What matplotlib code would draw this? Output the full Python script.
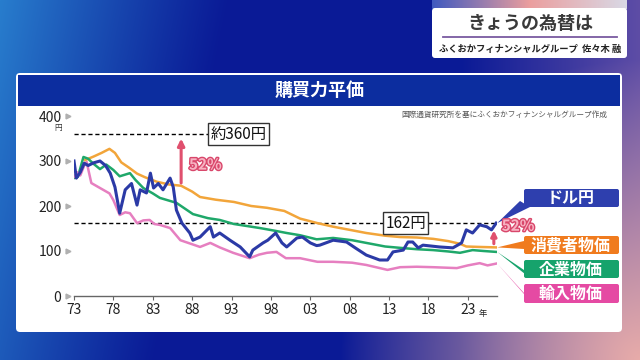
import matplotlib
matplotlib.use("Agg")
import matplotlib.pyplot as plt
from matplotlib.patches import FancyBboxPatch, Polygon, Rectangle
from matplotlib.transforms import blended_transform_factory
import matplotlib.patheffects as pe
import numpy as np

plt.rcParams['font.family'] = ['Noto Sans CJK JP', 'DejaVu Sans']

# values (x = year, y = yen)
usd_years = [1973.0, 1973.3, 1973.8, 1974.3, 1974.8, 1975.5, 1976.3, 1977.0, 1977.6, 1978.2,
             1978.8, 1979.5, 1980.3, 1981.0, 1981.4, 1982.2, 1982.7, 1983.1, 1983.7, 1984.3,
             1985.2, 1985.6, 1986.0, 1986.7, 1987.7, 1988.1, 1989.0, 1990.3, 1990.7, 1991.5,
             1992.8, 1994.1, 1995.3, 1995.7, 1997.0, 1997.6, 1998.6, 1999.4, 2000.0, 2001.3,
             2002.0, 2003.0, 2003.8, 2004.2, 2005.9, 2007.6, 2008.7, 2010.1, 2011.8, 2012.8,
             2013.5, 2014.8, 2015.4, 2016.0, 2016.7, 2017.3, 2019.4, 2021.1, 2022.2, 2022.8,
             2023.6, 2024.5, 2025.4, 2026.0, 2026.6]
usd_vals = [300, 262, 275, 295, 290, 296, 300, 290, 273, 242,
            184, 236, 250, 202, 236, 229, 273, 240, 250, 236,
            262, 242, 191, 162, 140, 124, 131, 154, 131, 140,
            124, 109, 87, 102, 118, 124, 140, 118, 109, 129,
            131, 118, 112, 113, 124, 120, 107, 91, 80, 80,
            98, 102, 120, 120, 107, 113, 109, 107, 118, 147,
            140, 158, 154, 147, 162]

cpi_years = [1974.4, 1975.5, 1976.5, 1977.5, 1978.2, 1979.0, 1980.0, 1981.0, 1982.0, 1983.5,
             1985.0, 1986.6, 1988.0, 1989.0, 1991.0, 1993.3, 1995.5, 1997.5, 1999.7, 2001.7,
             2003.9, 2005.9, 2008.0, 2010.1, 2012.5, 2014.4, 2016.5, 2018.6, 2020.5, 2022.0,
             2022.8, 2024.5, 2026.6]
cpi_vals = [302, 310, 318, 327, 318, 297, 285, 272, 264, 254,
            248, 245, 232, 220, 214, 209, 200, 196, 189, 172,
            162, 154, 147, 140, 134, 131, 130, 127, 122, 116,
            110, 109, 108]

ppi_years = [1973.0, 1973.5, 1974.2, 1974.8, 1975.4, 1976.3, 1977.1, 1978.0, 1978.8, 1980.1,
             1980.8, 1981.8, 1983.0, 1983.9, 1986.0, 1988.1, 1990.0, 1991.5, 1993.3, 1996.6,
             1998.5, 2000.0, 2001.7, 2003.8, 2005.9, 2008.3, 2010.1, 2012.5, 2014.4, 2016.5,
             2018.6, 2020.5, 2022.0, 2023.6, 2025.0, 2026.6]
ppi_vals = [262, 265, 309, 305, 295, 282, 292, 280, 266, 273,
            258, 240, 228, 218, 207, 182, 173, 169, 160, 151,
            145, 140, 135, 126, 129, 124, 118, 110, 107, 104,
            102, 99, 96, 102, 100, 98]

imp_years = [1973.0, 1973.4, 1973.8, 1974.3, 1974.6, 1975.2, 1976.0, 1976.7, 1977.5, 1978.0,
             1978.8, 1979.5, 1980.1, 1981.0, 1981.8, 1982.6, 1983.2, 1983.9, 1985.2, 1986.5,
             1988.0, 1989.0, 1990.3, 1991.5, 1993.2, 1995.3, 1996.5, 1997.5, 1998.7, 1999.9,
             2001.7, 2003.9, 2005.9, 2008.3, 2010.1, 2012.8, 2014.4, 2016.5, 2018.6, 2021.6,
             2023.0, 2024.5, 2025.5, 2026.6]
imp_vals = [265, 275, 268, 290, 298, 251, 243, 236, 228, 213,
            180, 186, 184, 162, 168, 169, 160, 158, 151, 124,
            115, 109, 118, 108, 96, 84, 92, 96, 98, 84,
            84, 76, 76, 74, 69, 58, 64, 65, 64, 62,
            68, 73, 68, 72]

tick_years = [1973, 1978, 1983, 1988, 1993, 1998, 2003, 2008, 2013, 2018, 2023]
tick_labels = ['73', '78', '83', '88', '93', '98', '03', '08', '13', '18', '23']
y_ticks = [0, 100, 200, 300, 400]
y_labels = ['0', '100', '200', '300', '400']

ref_then, ref_now = 360, 162

W, H = 640, 360
fig = plt.figure(figsize=(6.4, 3.6), dpi=100)

# background in pixel coordinates
bg = fig.add_axes([0, 0, 1, 1])
bg.set_xlim(0, W)
bg.set_ylim(H, 0)
bg.axis('off')

yy, xx = np.mgrid[0:H, 0:W]
navy = np.array([10, 26, 150]) / 255
blue = np.array([40, 125, 205]) / 255
purple = np.array([115, 90, 170]) / 255
pink = np.array([232, 172, 170]) / 255
wb = np.clip(1 - xx / 230 - yy / 1100, 0, 1)[..., None] ** 1.1
wp = (np.clip(1 - (W - xx) / 180, 0, 1) * 0.8)[..., None]
d = np.sqrt(((xx - W) / 300) ** 2 + ((yy - H) / 300) ** 2)
wk = np.clip(1 - d, 0, 1)[..., None] ** 0.9
img = navy * (1 - wb) + blue * wb
img = img * (1 - wp) + purple * wp
img = img * (1 - wk) + pink * wk
bg.imshow(img, extent=[0, W, H, 0], aspect='auto', zorder=0)

# header box top right
strip = np.linspace(0, 1, 200)
strip_cols = np.array([[0.25, 0.35, 0.75], [0.92, 0.62, 0.62], [0.85, 0.85, 0.9]])
sc = np.array([np.interp(strip, [0, 0.5, 1], strip_cols[:, k]) for k in range(3)]).T
bg.imshow(sc[None, :, :], extent=[432, 627, 9, 0], aspect='auto', zorder=1)
bg.add_patch(FancyBboxPatch((432, 8), 195, 50, boxstyle='round,pad=0,rounding_size=3',
                            fc='white', ec='none', zorder=2))
bg.text(530, 23, 'きょうの為替は', ha='center', va='center', fontsize=13,
        color='#3a3a3a', fontweight='bold', zorder=3)
bg.plot([443, 617], [37, 37], color='#7a5aa0', lw=1.3, zorder=3)
bg.text(530, 49.5, 'ふくおかフィナンシャルグループ  佐々木 融', ha='center', va='center',
        fontsize=6.7, color='#222222', fontweight='bold', zorder=3)

# white panel + title bar
bg.add_patch(FancyBboxPatch((16, 73), 606, 259, boxstyle='round,pad=0,rounding_size=4',
                            fc='white', ec='none', zorder=2))
bg.add_patch(Rectangle((18, 75), 602, 31, fc='#0c2d9f', ec='none', zorder=3))
bg.text(320, 90.5, '購買力平価', ha='center', va='center', fontsize=13, color='white',
        fontweight='bold', zorder=4)
bg.text(607, 115, '国際通貨研究所を基にふくおかフィナンシャルグループ作成', ha='right',
        va='center', fontsize=5.5, color='#555555', zorder=4)
bg.text(58, 128, '円', ha='center', va='center', fontsize=5.5, color='#333333', zorder=4)

# chart
ax = fig.add_axes([74 / W, 64 / H, 423 / W, 180 / H])
ax.set_facecolor('none')
ax.set_xlim(1973, 2026.7)
ax.set_ylim(0, 400)
for s in ['top', 'right', 'left']:
    ax.spines[s].set_visible(False)
ax.spines['bottom'].set_color('#666666')
ax.spines['bottom'].set_linewidth(1)
ax.set_xticks(tick_years, tick_labels)
ax.set_yticks(y_ticks, y_labels)
ax.tick_params(axis='x', length=3, color='#666666', pad=2, labelsize=10, labelcolor='#222222')
ax.tick_params(axis='y', length=0, pad=9, labelsize=10, labelcolor='#222222')
tr = blended_transform_factory(ax.transAxes, ax.transData)
ax.plot([-0.014] * len(y_ticks), y_ticks, ls='none', marker='>', ms=3.5, color='#b0b0b0',
        transform=tr, clip_on=False)
ax.text(2024.4, -38, '年', fontsize=6, color='#222222', va='center', clip_on=False)

# reference lines
ax.plot([1973, 1992], [ref_then, ref_then], color='black', lw=1, dashes=(3, 2))
ax.plot([1973, 2026.6], [ref_now, ref_now], color='black', lw=1, dashes=(3, 2))
ax.text(1993.9, ref_then, '約360円', ha='center', va='center', fontsize=11, color='#111111',
        bbox=dict(boxstyle='square,pad=0.15', fc='white', ec='#333333', lw=1))
ax.text(2015.1, ref_now, '162円', ha='center', va='center', fontsize=11, color='#111111',
        bbox=dict(boxstyle='square,pad=0.15', fc='white', ec='#333333', lw=1))

ax.plot(cpi_years, cpi_vals, color='#f2a53a', lw=1.8, solid_joinstyle='round')
ax.plot(ppi_years, ppi_vals, color='#1fa86a', lw=1.8, solid_joinstyle='round')
ax.plot(imp_years, imp_vals, color='#e67fc0', lw=1.8, solid_joinstyle='round')
ax.plot(usd_years, usd_vals, color='#2b3aa6', lw=2.2, solid_joinstyle='round')

# arrows + 52%
arrow_col = '#e0506e'
ax.annotate('', xy=(1986.6, 356), xytext=(1986.6, 245),
            arrowprops=dict(arrowstyle='-|>', color=arrow_col, lw=2.2, mutation_scale=10))
ax.annotate('', xy=(2026.3, 152), xytext=(2026.3, 110),
            arrowprops=dict(arrowstyle='-|>', color=arrow_col, lw=2.2, mutation_scale=8),
            annotation_clip=False)
fx = [pe.withStroke(linewidth=2, foreground='#d9476b')]
ax.text(1987.6, 292, '52%', fontsize=11, fontweight='bold', color='#f7b2c2',
        va='center', path_effects=fx)
ax.text(2027.3, 156, '52%', fontsize=11, fontweight='bold', color='#f7b2c2',
        va='center', path_effects=fx, clip_on=False)

# right-side labels with wedges
fig.canvas.draw()
labels = [
    ('ドル円', '#2e3fae', usd_years, usd_vals, 189, 207),
    ('消費者物価', '#f07b1e', cpi_years, cpi_vals, 236, 254),
    ('企業物価', '#16a36c', ppi_years, ppi_vals, 260, 278),
    ('輸入物価', '#e54aa3', imp_years, imp_vals, 284, 303),
]
for text, col, xs, ys, top, bot in labels:
    px, py = ax.transData.transform((xs[-1], ys[-1]))
    py = H - py
    mid = (top + bot) / 2
    if text == 'ドル円':
        base = [(520, bot - 6), (530, bot)]
    elif text == '企業物価':
        base = [(524, bot - 8), (530, bot)]
    elif text == '輸入物価':
        base = [(524, bot - 10), (532, bot)]
    else:
        base = [(524, mid - 4), (524, mid + 4)]
    bg.add_patch(Polygon([(px + 1, py)] + base, closed=True, fc=col, ec='none', zorder=5))
    bg.add_patch(FancyBboxPatch((524, top), 95, bot - top, boxstyle='round,pad=0,rounding_size=2',
                                fc=col, ec='none', zorder=5))
    bg.text(571, (top + bot) / 2 + 0.5, text, ha='center', va='center', fontsize=11.5,
            color='white', fontweight='bold', zorder=6)

fig.savefig('out.png', dpi=100)
